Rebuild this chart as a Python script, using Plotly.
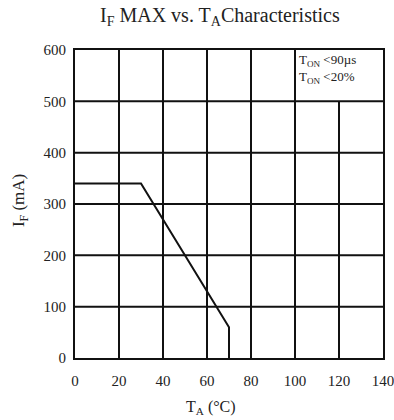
import plotly.graph_objects as go

# Derating curve: maximum forward current vs. ambient temperature
ta_c = [0, 30, 70, 70]
if_max_ma = [340, 340, 60, 0]

x_ticks = [0, 20, 40, 60, 80, 100, 120, 140]
y_ticks = [0, 100, 200, 300, 400, 500, 600]

FONT = "Liberation Serif, Times New Roman, serif"
INK = "#111111"
TEXT = "#222222"

fig = go.Figure()
fig.add_trace(go.Scatter(
    x=ta_c, y=if_max_ma, mode="lines",
    line=dict(color=INK, width=2), showlegend=False, hoverinfo="skip",
))

# Grid: vertical lines stop below the note cell at the top right
shapes = []
for xv in x_ticks[1:-1]:
    top = 500 if xv == 120 else 600
    shapes.append(dict(type="line", xref="x", yref="y", x0=xv, x1=xv, y0=0, y1=top,
                       line=dict(color=INK, width=2), layer="below"))
for yv in y_ticks[1:-1]:
    shapes.append(dict(type="line", xref="x", yref="y", x0=0, x1=140, y0=yv, y1=yv,
                       line=dict(color=INK, width=2), layer="below"))

annotations = [
    # pulse conditions note
    dict(text="T<sub>ON</sub> &lt;90µs<br>T<sub>ON</sub> &lt;20%",
         xref="x", yref="y", x=101, y=600, xanchor="left", yanchor="top",
         showarrow=False, align="left",
         font=dict(family=FONT, size=13, color=TEXT)),
    # axis titles
    dict(text="T<sub>A</sub> (°C)", xref="paper", yref="paper",
         x=0.44, y=-0.16, xanchor="center", yanchor="middle", showarrow=False,
         font=dict(family=FONT, size=16, color=TEXT)),
    dict(text="I<sub>F</sub> (mA)", xref="paper", yref="paper",
         x=-0.178, y=0.51, xanchor="center", yanchor="middle", showarrow=False,
         textangle=-90, font=dict(family=FONT, size=17, color=TEXT)),
]

fig.update_layout(
    width=394, height=420,
    margin=dict(l=75, r=11, t=50, b=62, autoexpand=False),
    paper_bgcolor="white", plot_bgcolor="white",
    font=dict(family=FONT, size=15, color=TEXT),
    title=dict(text="I<sub>F</sub> MAX vs. T<sub>A</sub>Characteristics",
               x=0.558, xanchor="center", xref="container", y=0.964, yanchor="middle",
               font=dict(family=FONT, size=20, color=TEXT)),
    shapes=shapes,
    annotations=annotations,
    xaxis=dict(
        range=[0, 140], tickvals=x_ticks, showgrid=False, zeroline=False,
        showline=True, mirror=True, linecolor=INK, linewidth=2,
        ticks="", ticklen=0, automargin=False, ticklabelstandoff=8,
        ticklabeloverflow="allow",
        tickfont=dict(family=FONT, size=15, color=TEXT),
    ),
    yaxis=dict(
        range=[0, 600], tickvals=y_ticks, showgrid=False, zeroline=False,
        showline=True, mirror=True, linecolor=INK, linewidth=2,
        ticks="", ticklen=0, automargin=False, ticklabelstandoff=4,
        tickfont=dict(family=FONT, size=15, color=TEXT),
    ),
)

fig.write_html("out.html")
